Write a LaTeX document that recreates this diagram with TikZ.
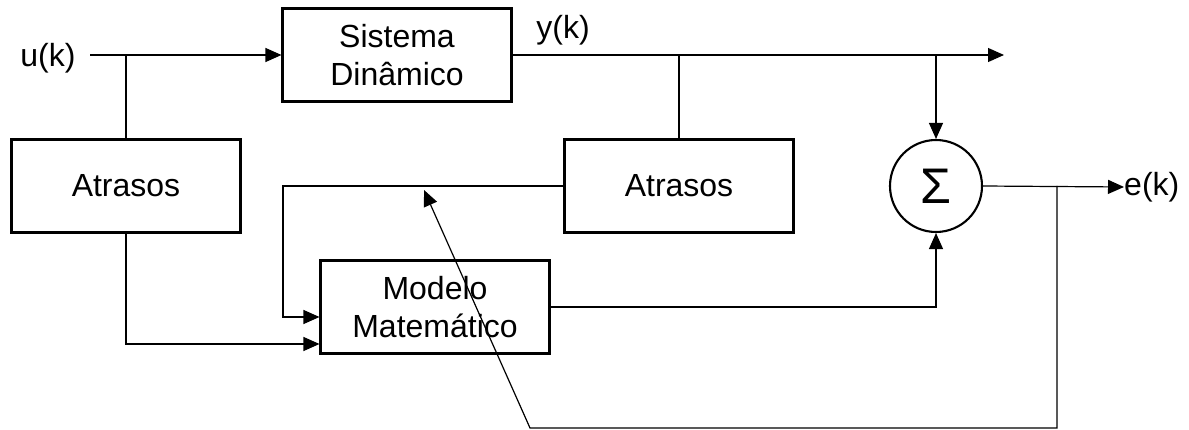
\documentclass[tikz,border=0pt]{standalone}
\usepackage{fontspec}
\setmainfont{Liberation Sans}
\usetikzlibrary{arrows.meta,positioning,calc}

\begin{document}
\begin{tikzpicture}[x=1pt,y=-1pt,
    bloco/.style={draw, line width=2.1pt, minimum width=229pt, minimum height=93pt, align=center, font=\fontsize{32}{38}\selectfont},
    somador/.style={circle, draw, line width=2.1pt, minimum size=92pt, inner sep=0pt, font=\fontsize{50}{50}\selectfont},
    sinal/.style={line width=1.2pt},
    seta/.style={sinal, -{Triangle[length=16pt,width=14pt]}},
    rotulo/.style={font=\fontsize{32}{38}\selectfont, inner sep=0pt}]

    \useasboundingbox (0,0) rectangle (1189,430);

    \node[bloco] (sistema) at (397,55) {Sistema\\Dinâmico};
    \node[bloco] (atrasosU) at (126,186) {Atrasos};
    \node[bloco] (atrasosY) at (679,186) {Atrasos};
    \node[bloco] (modelo) at (435,307) {Modelo\\Matemático};
    \node[somador] (sigma) at (936,186) {Σ};
    \node[rotulo] (uk) at (48,58) {u(k)};
    \node[rotulo] (yk) at (563,30) {y(k)};
    \node[rotulo, anchor=west] (ek) at (1124,187) {e(k)};

    \coordinate (ini) at (90,55);
    \coordinate (ramoU) at (126,55);
    \coordinate (saida) at (1004,55);
    \coordinate (ramoY) at (679,55);
    \coordinate (ramoS) at (936,55);
    \coordinate (volta) at (283,186);
    \coordinate (ramoE) at (1057,186);
    \coordinate (baixo) at (1057,428);
    \coordinate (baixoE) at (530,428);
    \coordinate (ponta) at (424,190);

    \draw[seta] (ini) -- (sistema.west);
    \draw[sinal] (ramoU) -- (atrasosU.north);
    \draw[seta] (atrasosU.south) |- ($(modelo.west)+(0,37)$);
    \draw[seta] (atrasosY.west) -- (volta) |- ($(modelo.west)+(0,10)$);
    \draw[seta] (sistema.east) -- (saida);
    \draw[sinal] (ramoY) -- (atrasosY.north);
    \draw[seta] (ramoS) -- (sigma.north);
    \draw[seta] (modelo.east) -| (sigma.south);
    \draw[seta] (sigma.east) -- (ek.west);
    \draw[seta] (ramoE) -- (baixo) -- (baixoE) -- (ponta);
\end{tikzpicture}
\end{document}
